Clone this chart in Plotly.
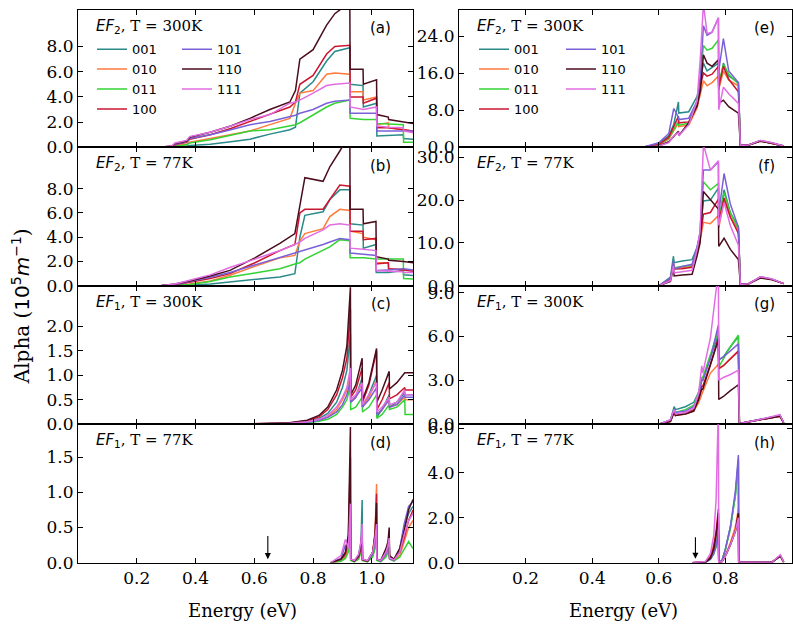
import plotly.graph_objects as go

W, H = 793, 637
SERIES = ["001", "010", "011", "100", "101", "110", "111"]
COLORS = {"001": "#2a8a8a", "010": "#ff7a3c", "011": "#35d335", "100": "#cc1530",
          "101": "#7a60d8", "110": "#4a0d1c", "111": "#e26de2"}

# ---------------- (a) EF2, T = 300K ----------------
E_a = [0.28, 0.32, 0.33, 0.37, 0.38, 0.45, 0.52, 0.585, 0.653, 0.721, 0.74, 0.755, 0.80, 0.846,
       0.874, 0.925, 0.926, 0.97, 0.971, 1.016, 1.017, 1.056, 1.057, 1.107, 1.108, 1.14]
alpha_a = {
    "001": [0, 0.02, 0.05, 0.1, 0.15, 0.25, 0.45, 0.65, 1.05, 1.4, 1.6, 4.3, 5.2, 6.85, 7.6, 7.9, 5.0, 4.9, 3.2, 3.5, 0.9, 0.95, 0.95, 1.0, 0.7, 0.65],
    "010": [0, 0.05, 0.1, 0.25, 0.4, 0.7, 1.0, 1.3, 1.8, 2.3, 3.5, 4.3, 4.5, 5.8, 5.9, 5.8, 4.4, 4.4, 3.75, 4.0, 1.8, 1.95, 1.55, 1.45, 1.4, 1.3],
    "011": [0, 0.03, 0.08, 0.2, 0.35, 0.6, 0.95, 1.3, 1.4, 1.7, 1.8, 1.95, 2.6, 3.2, 3.5, 3.75, 2.3, 2.2, 2.2, 2.2, 1.9, 1.85, 1.85, 1.8, 0.4, 0.4],
    "100": [0, 0.08, 0.2, 0.4, 0.65, 1.0, 1.5, 2.05, 2.6, 3.2, 3.6, 5.0, 5.7, 7.4, 8.0, 8.1, 4.0, 4.0, 3.5, 3.9, 1.55, 1.55, 1.55, 1.4, 1.4, 1.3],
    "101": [0, 0.08, 0.25, 0.45, 0.7, 1.0, 1.4, 1.8, 2.05, 2.45, 2.55, 2.7, 3.0, 3.5, 3.65, 3.75, 2.7, 2.7, 2.7, 2.7, 1.3, 1.3, 1.3, 1.35, 1.35, 1.3],
    "110": [0, 0.1, 0.3, 0.5, 0.8, 1.2, 1.7, 2.3, 3.0, 3.6, 4.5, 7.0, 7.75, 9.7, 10.6, 11.5, 6.2, 6.2, 5.0, 5.35, 2.6, 2.4, 2.2, 2.05, 2.05, 1.9],
    "111": [0, 0.12, 0.35, 0.55, 0.85, 1.2, 1.7, 2.2, 2.6, 3.5, 3.6, 3.75, 4.3, 4.9, 5.0, 5.1, 3.2, 3.0, 3.0, 3.2, 1.7, 1.6, 1.6, 1.55, 1.3, 1.15],
}

# ---------------- (b) EF2, T = 77K ----------------
E_b = [0.28, 0.33, 0.38, 0.45, 0.517, 0.602, 0.687, 0.738, 0.755, 0.772, 0.834, 0.857, 0.891,
       0.925, 0.926, 0.97, 0.971, 1.014, 1.015, 1.056, 1.057, 1.107, 1.108, 1.14]
alpha_b = {
    "001": [0, 0.01, 0.05, 0.15, 0.33, 0.5, 0.73, 1.0, 4.0, 5.8, 6.1, 7.1, 7.9, 7.9, 5.1, 5.0, 3.1, 3.4, 1.1, 1.1, 1.1, 1.25, 0.9, 0.85],
    "010": [0, 0.05, 0.15, 0.4, 0.87, 1.6, 2.3, 2.5, 3.7, 4.3, 4.7, 5.7, 6.3, 6.2, 4.5, 4.3, 4.0, 3.8, 1.9, 1.9, 1.4, 1.35, 1.35, 1.3],
    "011": [0, 0.03, 0.1, 0.35, 0.73, 1.05, 1.4, 1.8, 1.9, 2.2, 2.9, 3.2, 3.8, 3.7, 2.3, 2.3, 2.3, 2.2, 2.2, 2.2, 2.2, 2.2, 0.6, 0.55],
    "100": [0, 0.1, 0.3, 0.6, 1.0, 1.9, 2.9, 3.4, 6.0, 6.3, 6.3, 7.1, 8.3, 8.2, 4.5, 4.5, 3.8, 3.9, 1.8, 1.9, 1.4, 1.3, 1.3, 1.2],
    "101": [0, 0.1, 0.35, 0.7, 1.1, 1.7, 2.3, 2.7, 2.8, 2.9, 3.4, 3.6, 3.9, 3.8, 2.7, 2.6, 2.6, 2.5, 1.25, 1.3, 1.3, 1.4, 1.4, 1.3],
    "110": [0, 0.15, 0.4, 0.8, 1.27, 2.3, 3.5, 4.3, 6.6, 8.9, 8.6, 9.8, 11.1, 12.5, 6.3, 6.3, 5.1, 5.3, 2.4, 2.2, 2.1, 2.05, 2.0, 1.9],
    "111": [0, 0.15, 0.45, 0.9, 1.5, 2.2, 2.9, 3.4, 3.6, 3.9, 4.6, 5.0, 5.1, 5.0, 3.1, 3.0, 3.0, 2.9, 1.25, 1.2, 1.2, 1.15, 1.1, 1.1],
}

# ---------------- (c) EF1, T = 300K ----------------
E_c = [0.55, 0.65, 0.72, 0.78, 0.82, 0.85, 0.88, 0.90, 0.915, 0.927, 0.928, 0.945, 0.967, 0.968,
       0.99, 1.016, 1.017, 1.035, 1.059, 1.060, 1.085, 1.112, 1.113, 1.14]
alpha_c = {
    "001": [0, 0.005, 0.02, 0.05, 0.12, 0.22, 0.45, 0.75, 1.1, 1.85, 0.45, 0.55, 0.95, 0.35, 0.6, 1.0, 0.15, 0.3, 0.6, 0.35, 0.45, 0.65, 0.6, 0.6],
    "010": [0, 0.005, 0.015, 0.04, 0.08, 0.15, 0.3, 0.5, 0.7, 1.05, 0.45, 0.55, 0.85, 0.35, 0.55, 0.9, 0.2, 0.3, 0.55, 0.35, 0.4, 0.55, 0.5, 0.5],
    "011": [0, 0.003, 0.01, 0.03, 0.06, 0.1, 0.2, 0.35, 0.5, 0.8, 0.3, 0.35, 0.55, 0.25, 0.35, 0.6, 0.12, 0.2, 0.4, 0.3, 0.35, 0.5, 0.2, 0.2],
    "100": [0, 0.01, 0.025, 0.07, 0.15, 0.3, 0.6, 0.95, 1.35, 2.35, 0.55, 0.7, 1.15, 0.45, 0.8, 1.5, 0.3, 0.5, 0.85, 0.52, 0.6, 0.75, 0.7, 0.7],
    "101": [0, 0.005, 0.015, 0.04, 0.08, 0.14, 0.25, 0.4, 0.6, 0.9, 0.45, 0.55, 0.75, 0.35, 0.5, 0.75, 0.2, 0.3, 0.5, 0.35, 0.4, 0.6, 0.55, 0.55],
    "110": [0, 0.01, 0.03, 0.08, 0.18, 0.35, 0.7, 1.1, 1.6, 2.8, 0.6, 0.8, 1.35, 0.5, 0.85, 1.55, 0.45, 0.7, 1.08, 0.72, 0.85, 1.05, 1.05, 1.05],
    "111": [0, 0.01, 0.02, 0.05, 0.1, 0.18, 0.35, 0.55, 0.75, 1.15, 0.5, 0.6, 0.85, 0.4, 0.6, 0.85, 0.25, 0.35, 0.55, 0.4, 0.45, 0.7, 0.6, 0.6],
}

# ---------------- (d) EF1, T = 77K ----------------
E_d = [0.86, 0.895, 0.91, 0.92, 0.927, 0.928, 0.94, 0.955, 0.963, 0.967, 0.968, 0.985, 1.003,
       1.011, 1.016, 1.017, 1.03, 1.048, 1.055, 1.059, 1.060, 1.075, 1.095, 1.11, 1.125, 1.14]
alpha_d = {
    "001": [0, 0.03, 0.1, 0.3, 0.9, 0.05, 0.02, 0.1, 0.3, 0.89, 0.05, 0.02, 0.1, 0.25, 0.45, 0.04, 0.02, 0.15, 0.25, 0.35, 0.08, 0.04, 0.2, 0.5, 0.7, 0.8],
    "010": [0, 0.02, 0.08, 0.2, 0.6, 0.04, 0.02, 0.08, 0.2, 0.45, 0.04, 0.02, 0.15, 0.45, 1.12, 0.05, 0.02, 0.1, 0.2, 0.3, 0.06, 0.03, 0.1, 0.3, 0.5, 0.6],
    "011": [0, 0.02, 0.06, 0.15, 0.5, 0.03, 0.01, 0.05, 0.15, 0.35, 0.03, 0.01, 0.08, 0.2, 0.35, 0.03, 0.01, 0.08, 0.15, 0.25, 0.05, 0.02, 0.08, 0.2, 0.3, 0.2],
    "100": [0, 0.05, 0.12, 0.35, 1.5, 0.05, 0.02, 0.08, 0.2, 0.4, 0.04, 0.02, 0.15, 0.4, 0.98, 0.05, 0.03, 0.15, 0.25, 0.4, 0.08, 0.04, 0.15, 0.35, 0.6, 0.75],
    "101": [0, 0.06, 0.25, 0.2, 0.7, 0.05, 0.02, 0.1, 0.25, 0.5, 0.05, 0.02, 0.12, 0.3, 0.5, 0.05, 0.02, 0.12, 0.2, 0.3, 0.06, 0.03, 0.2, 0.55, 0.8, 0.87],
    "110": [0, 0.05, 0.15, 0.4, 1.93, 0.05, 0.02, 0.1, 0.25, 0.45, 0.05, 0.02, 0.15, 0.4, 0.85, 0.05, 0.03, 0.2, 0.3, 0.5, 0.1, 0.05, 0.2, 0.45, 0.75, 0.9],
    "111": [0, 0.1, 0.33, 0.2, 0.84, 0.05, 0.03, 0.12, 0.3, 0.55, 0.05, 0.03, 0.15, 0.35, 0.55, 0.05, 0.03, 0.15, 0.25, 0.35, 0.07, 0.04, 0.15, 0.4, 0.6, 0.7],
}

# ---------------- (e) EF2, T = 300K ----------------
E_e = [0.55, 0.60, 0.63, 0.645, 0.659, 0.660, 0.69, 0.715, 0.725, 0.734, 0.745, 0.76, 0.779,
       0.780, 0.794, 0.81, 0.839, 0.845, 0.87, 0.905, 0.94, 0.975]
alpha_e = {
    "001": [0, 0.8, 2.5, 5.0, 9.8, 7.4, 7.7, 11.0, 14.4, 18.2, 16.5, 17.2, 18.2, 12.5, 18.2, 15.4, 14.0, 0.4, 0.5, 1.4, 0.9, 0.3],
    "010": [0, 0.5, 1.8, 3.5, 5.3, 4.5, 4.8, 8.5, 12.0, 14.4, 13.3, 14.0, 15.4, 12.6, 16.5, 14.5, 13.3, 0.4, 0.5, 1.4, 0.9, 0.3],
    "011": [0, 0.6, 2.0, 3.8, 5.6, 4.8, 5.2, 10.0, 15.4, 22.0, 21.0, 21.4, 23.2, 13.7, 17.9, 15.8, 13.7, 0.4, 0.5, 1.4, 0.9, 0.3],
    "100": [0, 0.6, 2.2, 4.5, 6.7, 5.3, 5.5, 9.0, 13.3, 16.1, 15.4, 15.8, 17.5, 13.0, 17.5, 14.7, 12.0, 0.4, 0.5, 1.4, 0.9, 0.3],
    "101": [0, 1.0, 3.0, 8.4, 6.5, 6.0, 6.3, 10.0, 15.0, 26.3, 24.2, 24.9, 28.0, 16.5, 23.5, 16.5, 14.0, 0.4, 0.5, 1.5, 1.0, 0.3],
    "110": [0, 0.3, 1.2, 2.5, 3.5, 2.5, 5.3, 9.0, 12.3, 20.0, 18.2, 17.5, 18.9, 9.5, 10.2, 8.8, 7.4, 0.4, 0.5, 1.3, 0.9, 0.3],
    "111": [0, 0.3, 1.0, 2.5, 3.2, 2.5, 4.9, 10.0, 19.6, 31.0, 24.6, 24.9, 28.0, 8.1, 13.0, 11.6, 9.5, 0.4, 0.5, 1.5, 1.0, 0.3],
}

# ---------------- (f) EF2, T = 77K ----------------
E_f = [0.60, 0.635, 0.644, 0.646, 0.67, 0.70, 0.715, 0.724, 0.734, 0.755, 0.779, 0.780, 0.796,
       0.815, 0.839, 0.845, 0.87, 0.905, 0.94, 0.975]
alpha_f = {
    "001": [0, 2.0, 6.9, 5.4, 5.8, 6.1, 9.0, 12.0, 19.8, 20.0, 22.8, 15.0, 22.4, 17.0, 13.7, 0.3, 0.5, 2.0, 1.5, 0.5],
    "010": [0, 1.5, 4.8, 4.0, 4.2, 4.5, 7.5, 10.5, 14.8, 14.5, 16.4, 13.5, 20.0, 16.0, 13.0, 0.3, 0.5, 2.0, 1.5, 0.5],
    "011": [0, 1.6, 5.0, 4.2, 4.5, 4.8, 8.5, 12.0, 24.3, 22.4, 23.9, 15.5, 21.7, 17.0, 13.3, 0.3, 0.5, 2.0, 1.5, 0.5],
    "100": [0, 1.6, 5.3, 3.9, 4.0, 4.3, 8.0, 11.0, 16.7, 17.1, 20.2, 15.0, 20.5, 16.0, 12.2, 0.3, 0.5, 2.0, 1.5, 0.5],
    "101": [0, 1.8, 5.8, 3.9, 4.5, 5.0, 9.0, 12.5, 27.0, 27.0, 28.9, 17.0, 26.2, 19.0, 13.7, 0.3, 0.5, 2.1, 1.6, 0.5],
    "110": [0, 1.0, 4.2, 2.3, 2.5, 2.7, 7.0, 10.0, 22.0, 20.2, 17.9, 9.2, 11.1, 8.5, 6.1, 0.3, 0.5, 1.8, 1.4, 0.5],
    "111": [0, 1.2, 4.6, 3.0, 3.3, 3.6, 8.5, 12.6, 33.0, 27.0, 29.2, 14.1, 19.4, 14.0, 9.5, 0.3, 0.5, 2.1, 1.6, 0.5],
}

# ---------------- (g) EF1, T = 300K ----------------
E_g = [0.60, 0.635, 0.646, 0.650, 0.68, 0.705, 0.72, 0.729, 0.732, 0.755, 0.779, 0.780, 0.794,
       0.815, 0.839, 0.842, 0.90, 0.964, 0.975]
alpha_g = {
    "001": [0, 0.3, 1.2, 1.0, 1.2, 1.5, 2.2, 3.0, 3.0, 4.6, 6.1, 4.4, 4.6, 5.3, 6.0, 0.05, 0.3, 0.6, 0.1],
    "010": [0, 0.2, 0.8, 0.6, 0.7, 0.9, 1.5, 2.1, 2.2, 3.5, 4.1, 3.8, 4.0, 4.5, 5.0, 0.05, 0.3, 0.55, 0.1],
    "011": [0, 0.25, 1.0, 0.8, 1.0, 1.3, 2.2, 3.2, 3.2, 4.7, 6.4, 3.9, 4.5, 5.3, 6.1, 0.05, 0.3, 0.6, 0.1],
    "100": [0, 0.2, 0.9, 0.6, 0.8, 1.0, 1.8, 2.6, 2.6, 4.1, 5.9, 3.8, 4.0, 4.5, 5.0, 0.05, 0.3, 0.55, 0.1],
    "101": [0, 0.3, 1.0, 0.8, 0.9, 1.2, 2.0, 3.0, 3.0, 4.5, 6.8, 4.4, 4.6, 5.0, 5.5, 0.05, 0.3, 0.6, 0.1],
    "110": [0, 0.2, 0.8, 0.6, 0.7, 0.9, 1.7, 2.4, 2.4, 4.0, 5.8, 1.7, 1.9, 2.3, 2.7, 0.05, 0.3, 0.55, 0.1],
    "111": [0, 0.3, 1.0, 0.7, 0.8, 1.1, 2.2, 4.0, 3.5, 5.9, 10.5, 3.0, 3.2, 3.4, 3.7, 0.05, 0.3, 0.65, 0.1],
}

# ---------------- (h) EF1, T = 77K ----------------
E_h = [0.70, 0.74, 0.755, 0.765, 0.772, 0.779, 0.780, 0.79, 0.80, 0.815, 0.83, 0.839, 0.840,
       0.94, 0.965, 0.975]
alpha_h = {
    "001": [0, 0.02, 0.15, 0.4, 0.7, 1.2, 0.02, 0.1, 0.6, 1.6, 3.0, 4.6, 0.02, 0.02, 0.3, 0.02],
    "010": [0, 0.05, 0.3, 0.8, 1.3, 1.8, 0.02, 0.05, 0.3, 0.9, 1.6, 2.4, 0.02, 0.02, 0.3, 0.02],
    "011": [0, 0.02, 0.15, 0.4, 0.8, 1.4, 0.02, 0.1, 0.6, 1.5, 3.0, 4.5, 0.02, 0.02, 0.3, 0.02],
    "100": [0, 0.03, 0.25, 0.7, 1.4, 2.4, 0.02, 0.05, 0.3, 0.8, 1.4, 2.2, 0.02, 0.02, 0.3, 0.02],
    "101": [0, 0.02, 0.15, 0.4, 0.8, 1.3, 0.02, 0.1, 0.6, 1.6, 3.2, 4.8, 0.02, 0.02, 0.3, 0.02],
    "110": [0, 0.02, 0.2, 0.6, 1.2, 2.2, 0.02, 0.05, 0.3, 0.8, 1.4, 2.2, 0.02, 0.02, 0.3, 0.02],
    "111": [0, 0.05, 0.4, 1.2, 2.8, 7.0, 0.02, 0.05, 0.3, 0.8, 1.4, 2.0, 0.02, 0.02, 0.35, 0.02],
}

# panel meta: letter, energies, data, y range top, y ticks, EF index, temperature
PANELS = [
    ("a", E_a, alpha_a, 10.9, [0, 2, 4, 6, 8], "2", "300K"),
    ("b", E_b, alpha_b, 11.4, [0, 2, 4, 6, 8], "2", "77K"),
    ("c", E_c, alpha_c, 2.83, [0, 0.5, 1.0, 1.5, 2.0], "1", "300K"),
    ("d", E_d, alpha_d, 1.97, [0, 0.5, 1.0, 1.5], "1", "77K"),
    ("e", E_e, alpha_e, 29.7, [0, 8, 16, 24], "2", "300K"),
    ("f", E_f, alpha_f, 32.3, [0, 10, 20, 30], "2", "77K"),
    ("g", E_g, alpha_g, 9.47, [0, 3, 6, 9], "1", "300K"),
    ("h", E_h, alpha_h, 6.17, [0, 2, 4, 6], "1", "77K"),
]
X_TICKS_LEFT = [0.2, 0.4, 0.6, 0.8, 1.0]
X_TICKS_RIGHT = [0.2, 0.4, 0.6, 0.8]
X_RANGE_LEFT = [0, 1.14]
X_RANGE_RIGHT = [0, 1.0]

# pixel layout
COL_X = [(78, 413), (459, 792)]
ROW_Y = [(4, 145), (145, 287), (287, 429), (429, 571)]

SERIF = "DejaVu Serif"
SANS = "DejaVu Sans"

fig = go.Figure()
layout = dict(
    width=W, height=H, margin=dict(l=0, r=0, t=0, b=0),
    paper_bgcolor="white", plot_bgcolor="white", showlegend=True,
)
annotations = []

LEGEND_OF = {
    "a": {"001": "legend", "010": "legend", "011": "legend", "100": "legend",
          "101": "legend2", "110": "legend2", "111": "legend2"},
    "e": {"001": "legend3", "010": "legend3", "011": "legend3", "100": "legend3",
          "101": "legend4", "110": "legend4", "111": "legend4"},
}

for idx, (letter, E, data, ytop, yticks, ef, temp) in enumerate(PANELS):
    i = idx + 1
    col = 0 if idx < 4 else 1
    row = idx % 4
    x0, x1 = COL_X[col]
    y0, y1 = ROW_Y[row]
    xs = "" if i == 1 else str(i)
    for s in SERIES:
        leg = LEGEND_OF.get(letter, {}).get(s)
        fig.add_trace(go.Scatter(
            x=E, y=data[s], mode="lines", name=s,
            line=dict(color=COLORS[s], width=1.5),
            xaxis="x" + xs, yaxis="y" + xs,
            showlegend=leg is not None,
            legend=leg if leg else "legend",
            hoverinfo="skip",
        ))
    common = dict(showline=True, linecolor="black", linewidth=1.2, mirror="allticks",
                  ticks="inside", ticklen=5, tickwidth=1.1, tickcolor="black",
                  showgrid=False, zeroline=False,
                  tickfont=dict(family=SERIF, size=17, color="black"))
    layout["xaxis" + xs] = dict(
        common, domain=[x0 / W, x1 / W], anchor="y" + xs,
        range=X_RANGE_LEFT if col == 0 else X_RANGE_RIGHT,
        tickvals=X_TICKS_LEFT if col == 0 else X_TICKS_RIGHT,
        ticktext=["%.1f" % v for v in (X_TICKS_LEFT if col == 0 else X_TICKS_RIGHT)],
        showticklabels=(row == 3),
    )
    layout["yaxis" + xs] = dict(
        common, domain=[1 - y1 / H, 1 - y0 / H], anchor="x" + xs,
        range=[0, ytop], tickvals=yticks, ticktext=["%.1f" % v for v in yticks],
    )
    # panel title
    annotations.append(dict(
        xref="paper", yref="paper", x=(x0 + 16) / W, y=1 - (y0 + 17) / H,
        xanchor="left", yanchor="middle", showarrow=False,
        text='<span style="font-family:DejaVu Sans"><i>EF</i><sub>%s</sub></span>, T = %s' % (ef, temp),
        font=dict(family=SERIF, size=15, color="black"),
    ))
    annotations.append(dict(
        xref="paper", yref="paper", x=(x1 - (20 if col == 0 else 15)) / W, y=1 - (y0 + 19) / H,
        xanchor="right", yanchor="middle", showarrow=False,
        text="(%s)" % letter, font=dict(family=SANS, size=15, color="black"),
    ))

leg_common = dict(xanchor="left", yanchor="top", bgcolor="rgba(0,0,0,0)",
                  font=dict(family=SANS, size=13, color="black"),
                  itemwidth=30, tracegroupgap=0, orientation="v", traceorder="normal")
layout["legend"] = dict(leg_common, x=92 / W, y=1 - 29 / H)
layout["legend2"] = dict(leg_common, x=177 / W, y=1 - 29 / H)
layout["legend3"] = dict(leg_common, x=474 / W, y=1 - 29 / H)
layout["legend4"] = dict(leg_common, x=561 / W, y=1 - 29 / H)

# axis titles
for cx in (242, 623):
    annotations.append(dict(xref="paper", yref="paper", x=cx / W, y=1 - 620 / H,
                            xanchor="center", yanchor="middle", showarrow=False,
                            text="Energy (eV)", font=dict(family=SERIF, size=18, color="black")))
annotations.append(dict(
    xref="paper", yref="paper", x=21 / W, y=1 - 308 / H, xanchor="center", yanchor="middle",
    showarrow=False, textangle=-90,
    text='Alpha (<span style="font-family:DejaVu Sans">10<sup>5</sup><i>m</i><sup>\u22121</sup></span>)',
    font=dict(family=SERIF, size=20, color="black"),
))

# arrows marking the band gap
ARROWS = [("4", 0.646, 0.05, 0.40), ("8", 0.71, 0.17, 1.2)]
for ax_id, ex, ytip, ytail in ARROWS:
    annotations.append(dict(
        xref="x" + ax_id, yref="y" + ax_id, x=ex, y=ytip,
        axref="x" + ax_id, ayref="y" + ax_id, ax=ex, ay=ytail,
        text="", showarrow=True, arrowhead=2, arrowsize=1.1, arrowwidth=1.1, arrowcolor="black",
    ))

layout["annotations"] = annotations
fig.update_layout(**layout)
fig.write_html(
    "out.html",
    config={"displayModeBar": False, "responsive": False},
    post_script=(
        "document.documentElement.style.margin='0px';"
        "document.body.style.margin='0px';"
        "document.body.style.padding='0px';"
        "document.documentElement.style.overflow='hidden';"
        "document.body.style.overflow='hidden';"
    ),
)
